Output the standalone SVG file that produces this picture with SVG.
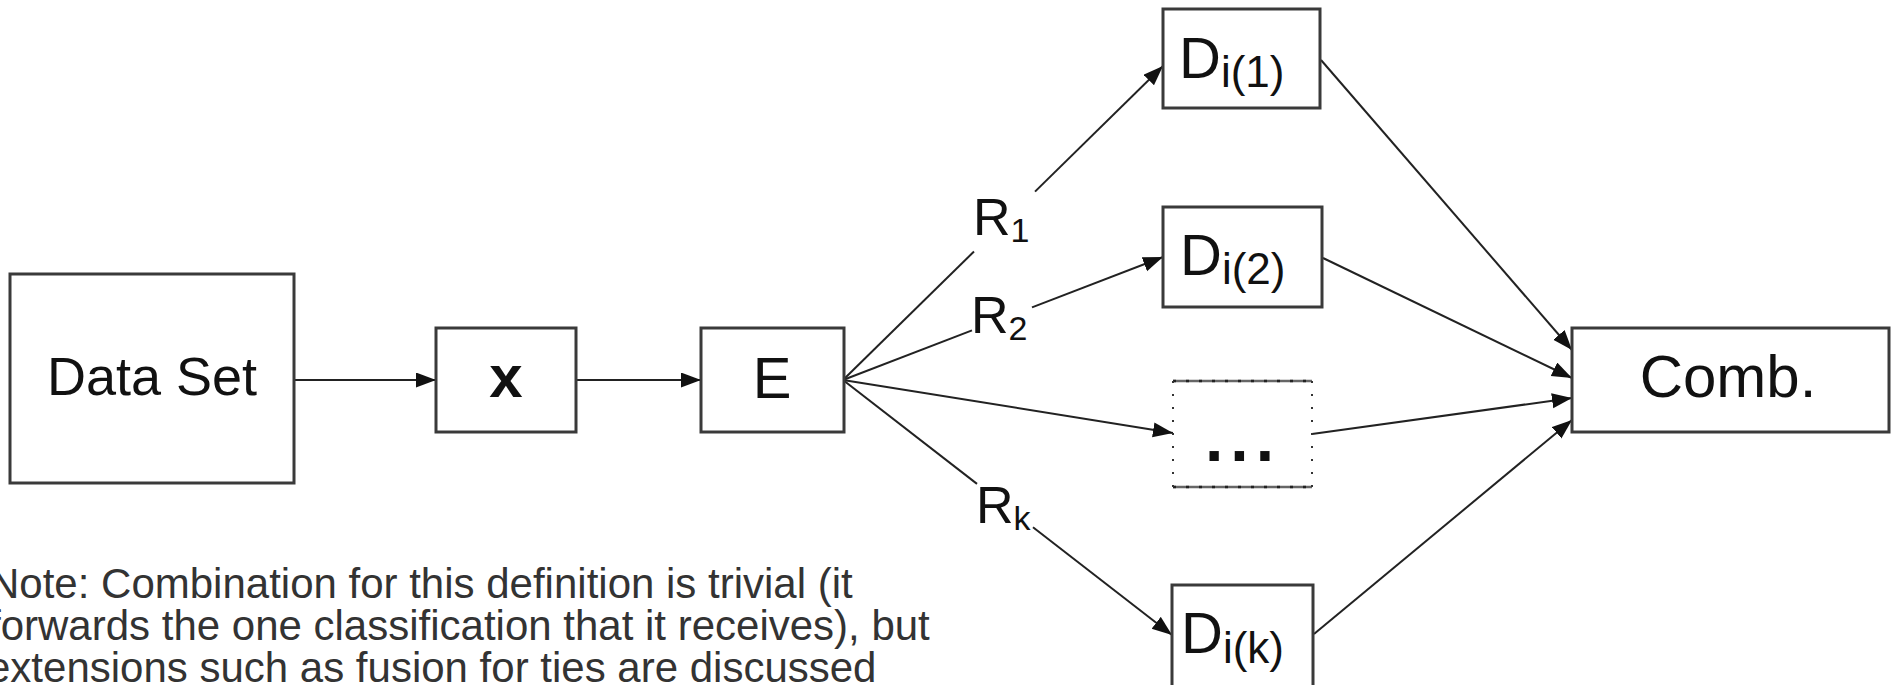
<svg xmlns="http://www.w3.org/2000/svg" width="1894" height="685" viewBox="0 0 1894 685">
<style>
.box{fill:#fff;stroke:#3a3a3a;stroke-width:3}
.lbl{font-family:"Liberation Sans",Arial,sans-serif;fill:#111}
.conn line{stroke:#222;stroke-width:2}
.arr{marker-end:url(#ah)}
.note{font-family:"Liberation Sans",Arial,sans-serif;font-size:42px;fill:#333}
</style>
<defs>
<marker id="ah" markerUnits="userSpaceOnUse" markerWidth="21" markerHeight="16" refX="20" refY="7.5" orient="auto">
<path d="M0,0 L20,7.5 L0,15 z" fill="#111"/>
</marker>
</defs>
<rect width="1894" height="685" fill="#fff"/>

<g id="connectors" class="conn">
<line class="arr" x1="294" y1="380" x2="436" y2="380"/>
<line class="arr" x1="576" y1="380" x2="701" y2="380"/>
<line x1="843" y1="380" x2="974" y2="251.5"/>
<line class="arr" x1="1035" y1="191.6" x2="1163" y2="66"/>
<line x1="843" y1="380" x2="972" y2="330.4"/>
<line class="arr" x1="1032" y1="307.4" x2="1163" y2="257"/>
<line class="arr" x1="843" y1="380" x2="1173" y2="433"/>
<line x1="843" y1="380" x2="977" y2="483.9"/>
<line class="arr" x1="1033" y1="527.3" x2="1172" y2="635"/>
<line class="arr" x1="1321" y1="60" x2="1572" y2="350"/>
<line class="arr" x1="1323" y1="258" x2="1572" y2="378"/>
<line class="arr" x1="1312" y1="434" x2="1572" y2="398"/>
<line class="arr" x1="1314" y1="634" x2="1572" y2="420"/>
</g>

<g id="dataset">
<rect class="box" x="10" y="274" width="284" height="209"/>
<text class="lbl" x="152" y="395" font-size="54" text-anchor="middle">Data Set</text>
</g>
<g id="x">
<rect class="box" x="436" y="328" width="140" height="104"/>
<text class="lbl" x="506" y="397" font-size="60" font-weight="bold" text-anchor="middle">x</text>
</g>
<g id="E">
<rect class="box" x="701" y="328" width="143" height="104"/>
<text class="lbl" x="772" y="398" font-size="58" text-anchor="middle">E</text>
</g>
<g id="D1">
<rect class="box" x="1163" y="9" width="157" height="99"/>
<text class="lbl" x="1179" y="78" font-size="58">D<tspan font-size="44" dy="9">i(1)</tspan></text>
</g>
<g id="D2">
<rect class="box" x="1163" y="207" width="159" height="100"/>
<text class="lbl" x="1180" y="275" font-size="58">D<tspan font-size="44" dy="9">i(2)</tspan></text>
</g>
<g id="Ddots">
<rect x="1173" y="381" width="139" height="106" fill="#fff" stroke="none"/>
<line x1="1173" y1="381" x2="1312" y2="381" stroke="#666" stroke-width="2.5"/>
<line x1="1173" y1="487" x2="1312" y2="487" stroke="#666" stroke-width="2.5"/>
<line x1="1173" y1="381" x2="1312" y2="381" stroke="#222" stroke-width="2.5" stroke-dasharray="3 10"/>
<line x1="1173" y1="487" x2="1312" y2="487" stroke="#222" stroke-width="2.5" stroke-dasharray="3 10"/>
<line x1="1173" y1="381" x2="1173" y2="487" stroke="#333" stroke-width="2" stroke-dasharray="2 11"/>
<line x1="1312" y1="381" x2="1312" y2="487" stroke="#333" stroke-width="2" stroke-dasharray="2 11"/>
<text class="lbl" x="1205" y="461" font-size="66" font-weight="bold" letter-spacing="7">...</text>
</g>
<g id="Dk">
<rect class="box" x="1172" y="585" width="141" height="102"/>
<text class="lbl" x="1181" y="653" font-size="58">D<tspan font-size="44" dy="10">i(k)</tspan></text>
</g>
<g id="comb">
<rect class="box" x="1572" y="328" width="317" height="104"/>
<text class="lbl" x="1728" y="397" font-size="60" text-anchor="middle">Comb.</text>
</g>
<g id="rlabels">
<text class="lbl" x="973" y="235" font-size="52">R<tspan font-size="34" dy="7">1</tspan></text>
<text class="lbl" x="971" y="333" font-size="52">R<tspan font-size="34" dy="7">2</tspan></text>
<text class="lbl" x="976" y="523" font-size="52">R<tspan font-size="34" dy="7">k</tspan></text>
</g>
<g id="note">
<text class="note" x="-11" y="598">Note: Combination for this definition is trivial (it</text>
<text class="note" x="-11" y="640">forwards the one classification that it receives), but</text>
<text class="note" x="-13" y="682">extensions such as fusion for ties are discussed</text>
</g>
</svg>
